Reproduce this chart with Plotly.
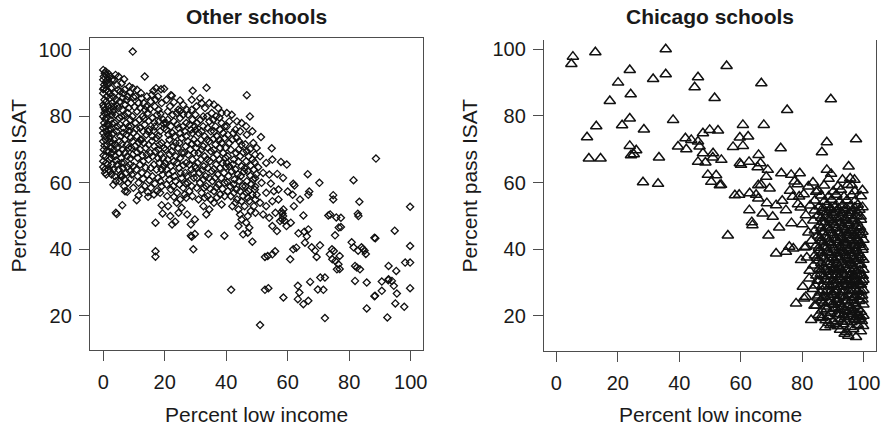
import plotly.graph_objects as go

# ---------------- data ----------------
# Other schools: (percent low income, percent pass ISAT)
other_schools = [
    # x 0-3 column
    (0,94),(0.5,93),(1,92.5),(0,91),(1.5,91),(0.3,89.5),(2,90),(1,88),(0,87),(2.5,88.5),(1.2,86),(0.4,85),
    (2.2,85.5),(0,83.5),(1.5,83),(3,84),(0.6,82),(2,81.5),(0,80),(1.2,79.5),(2.8,80.5),(0.3,78),(1.8,77.5),
    (0,76.5),(1,75.5),(2.5,76),(0.5,74),(2,73.5),(0,72.5),(1.3,71.5),(3,72),(0.2,70),(1.8,69.5),(0.8,68),
    (2.6,67.5),(0,66.5),(1.5,65.5),(0.5,64),(2.2,63.5),(1,62.5),(0.2,88.5),(1.7,87.5),(0.9,90.5),(2.3,92),
    (0.4,81),(1.6,74.5),(2.4,70.5),(0.7,77),
    (0.8,93.5),(1.8,92.8),(0.2,92),(2.8,91),(1.2,89.8),(0,88.2),(2.1,86.8),(0.8,84.3),(2.7,83),(0.2,82.8),
    (1.1,81),(2.4,79),(0.6,79.2),(1.4,77.6),(2.9,77.8),(0,75),(1.7,76),(2.9,74.6),(0.8,73),(2.1,72.3),
    (0.4,71.2),(1.2,69.6),(2.8,69),(0.1,68.2),(2,67),(0.9,66),(2.9,65.5),(0,64.8),(1.7,64),(2.7,62.5),(0.6,63),
    # x 3-10
    (3.5,91),(4.5,89.5),(5,92),(6,90),(3.8,87),(5.5,87.5),(7,88),(4.2,85),(6.3,85.5),(8,86),(3.5,83),(5,82.5),
    (7.2,83.5),(9,84),(4,80.5),(6,80),(8,81),(9.5,80),(3.7,78),(5.5,77.5),(7.5,78),(9,77),(4.3,75.5),(6.5,75),
    (8.5,75.5),(3.5,73),(5.3,72.5),(7,73),(9.5,72.5),(4.5,70.5),(6.2,70),(8.2,70.5),(3.8,68),(5.8,67.5),
    (7.8,68),(9.6,68.5),(4.6,65.5),(6.8,66),(8.7,65.5),(3.3,64),(5.7,62.5),(5.9,62),(6,61.8),(7.5,63),
    (9.3,62.5),(4.1,60.5),(8,60),(3.3,59.4),(6,66),(8.7,63.5),(4.4,50.6),(4.1,51),(6.2,53.3),(7.1,57.5),
    (7.8,57.3),(9.6,88.5),(9.6,99.5),
    (4,92.5),(6.8,91.2),(8.5,89),(4.8,88),(6.5,87),(8.7,87.2),(3.4,85.8),(5.4,84.5),(7.6,85),(9.8,85.8),
    (4.5,83.2),(6.2,82),(8.3,82.6),(3.2,81.5),(5.2,79.6),(7,80.3),(8.8,79),(4.6,77),(6.5,76.6),(8.2,77),
    (9.8,75),(3.3,75),(5.6,74),(7.6,74.6),(9,73.6),(4,71.6),(6.1,71.8),(7.7,71.5),(9.2,70.5),(3.4,70),
    (5.3,69),(7,69),(8.9,67.4),(4.2,66.8),(6.4,64.5),(7.9,64.8),(9.8,65),(5,64),(3.8,62),(7,61),(8.9,61.2),
    (5.3,60.5),(6.8,59),(9.8,58.5),
    # x 10-20
    (10.5,86),(11.5,84),(13.5,92),(12.5,85.5),(14,83),(15.5,84.5),(16.3,87.7),(17.2,88.5),(18.8,88.2),
    (19.8,88.3),(17,85),(18,82),(19,84),(11,81.5),(12.8,80),(14.5,81),(16,79.5),(17.5,80.5),(19.5,79),
    (10.5,78),(12,76.5),(13.5,77.5),(15,76),(16.8,77),(18.5,75.5),(19.8,76.5),(11,74),(12.5,73),(14,74.5),
    (15.8,72.5),(17.3,73.5),(19,72),(10.3,71),(12,70),(13.8,70.5),(15.3,69),(17,69.5),(18.7,68.5),
    (11.2,67.5),(13,66.5),(14.7,67),(16.5,65.5),(18.2,66),(19.7,65),(10.8,64),(12.6,63),(14.3,62.5),
    (16,62),(17.8,61.5),(19.3,62.5),(11.5,60),(13.5,59),(15.5,58.5),(17.5,57.5),(19,59),(10.9,54.8),
    (14.6,55.8),(17,48),(17,39.4),(17,37.8),(19,53.3),(19.3,50.8),(12,73),(16,74),(18,70),
    (11,88),(12.3,87),(14.2,86),(15.8,86.5),(13.2,84),(17.8,86),(10.2,82.8),(12,82.5),(13.6,82),(15.2,82.2),
    (16.8,83),(18.6,80.8),(11.8,79),(13.3,79.3),(14.8,78.6),(16.6,78.2),(18.2,78.5),(19.6,77.8),(10.8,76.3),
    (13,75.5),(14.6,75.5),(16.4,75.8),(18,74.2),(11.6,72.2),(13.2,72),(14.8,71.5),(16.6,71),(18.3,71.5),
    (19.8,70.5),(11,69.2),(12.8,68.2),(14.2,68.5),(16,68),(17.8,67.5),(19.4,67.5),(12,65.5),(13.8,64.6),
    (15.5,64.5),(17.3,64),(19,64),(11.2,62),(13,61.2),(15,60.8),(16.8,59.8),(18.6,60.5),(12.5,58),(14.5,57.2),
    (16.5,56.5),(18.5,57),(11.5,56.2),
    # x 20-30
    (22,86.4),(21.7,83),(24.4,82),(26,83.5),(23.9,81),(26,80.5),(22.3,86.2),(28.8,85),(29.1,87.7),
    (21,79),(23,78.5),(25,79.5),(27,78),(29,79),(20.5,76),(22.5,75),(24.5,76.5),(26.5,75.5),(28.5,76),
    (21.5,73),(23.5,72),(25.5,73.5),(27.5,72.5),(29.5,73),(20.3,70),(22.3,69.5),(24.3,70.5),(26.3,69),
    (28.3,70),(21,67),(23,66.5),(25,67.5),(27,66),(29,67),(20.7,64),(22.7,63.5),(24.7,64.5),(26.7,63),
    (28.7,64),(21.5,61),(23.5,60.5),(25.5,61.5),(27.5,60),(29.5,61.5),(22,58),(24,57),(26,58.5),(28,57.5),
    (21.1,53),(22.4,47.5),(21.8,50),(23.9,54),(24.5,51),(25.5,52.5),(23.4,48.3),(27.3,50.5),(28.5,47.5),
    (29.8,49),(28.8,43.8),(29.3,40),(28.5,44.1),(29.8,44.6),(25,55),(27,55.5),
    (20.6,85),(23,84.3),(25,84.8),(27.2,82),(21,81.5),(22.6,80.5),(25,81.6),(27.6,80.5),(28.8,82),(20.4,78),
    (22,77),(24,77.6),(26,77),(28,77.5),(29.8,77),(21.2,74.5),(23.2,74),(25,75),(27,74),(29,75),(20.8,71.5),
    (22.8,71),(24.8,72),(26.8,71),(28.8,71.8),(21.6,68.5),(23.6,68),(25.6,69),(27.6,68.5),(29.6,69),(20.2,66),
    (22,65),(24,66),(26,65.3),(28,65.5),(29.8,65),(21.2,62.6),(23.2,62),(25.2,63),(27.2,62),(29.2,63),
    (20.6,59.5),(22.8,59),(24.8,59.5),(26.8,59.8),(28.8,59),(20.8,56),(23,55.8),(26.5,56.5),(29,56),
    # x 30-40
    (31.5,85.5),(33.6,88.6),(33.1,82.5),(32.5,80),(35.3,81),(37.4,82.5),(36.7,80),(30.5,78),(32.5,77),
    (34.5,78.5),(36.5,77),(38.5,78),(31,75),(33,74),(35,75.5),(37,74),(39,75),(30.5,72),(32.5,71),
    (34.5,72.5),(36.5,71.5),(38.5,72),(31,69),(33,68),(35,69.5),(37,68.5),(39,69),(30.7,66),(32.7,65),
    (34.7,66.5),(36.7,65.5),(38.7,66),(31.3,63),(33.3,62),(35.3,63.5),(37.3,62.5),(39.3,63),(31.5,60),
    (33.5,59),(35.5,60.5),(37.5,59.5),(39.5,60),(32,57),(34,56),(36,57.5),(38,56.5),(32.6,53),(33.5,50.5),
    (34.5,52),(34.2,44.6),(39.4,44.1),(36,54),(38.5,53.5),(31,55),
    (30.3,83),(32,84),(34.5,84),(36,83.6),(38.5,81),(30,80.5),(31.6,79),(33.8,80),(35.8,79),(37.8,79.6),
    (39.5,77),(30,75.8),(32,75.5),(34,76.5),(36,75.5),(38,76),(31.8,73),(33.8,73),(35.8,73.2),(37.8,73),
    (39.5,73.5),(30.2,70.5),(32,70),(34,70.5),(36,70),(38,70.5),(39.8,70.5),(31.8,67),(33.8,67),(35.8,67.5),
    (37.8,67),(39.8,67.5),(30.2,64.5),(32.2,63.8),(34,64.5),(36,64.2),(38,64.5),(39.9,64.8),(30.5,61.5),
    (32.6,61),(34.4,61.5),(36.4,61.5),(38.4,61.5),(30.4,58.5),(32.8,58.5),(34.8,58.2),(36.8,58.6),(38.8,58.2),
    (33,55.5),(35,55),(37,55.6),(39.5,56),
    # x 40-50
    (40.2,81),(41.8,80.5),(47.7,80),(46.7,86.4),(40.2,77),(42.3,75),(43.4,73.5),(46.7,74.5),(48.8,72),
    (49.9,70.5),(49.4,68.5),(46.7,69.5),(45,71.5),(41,72),(44,70),(40.5,68),(42.5,67),(44.5,68),(46.5,66.5),
    (48.5,67),(41,65),(43,64),(45,65),(47,63.5),(49,64),(40.7,62),(42.7,61),(44.7,62),(46.7,60.5),(48.7,61),
    (41.3,59),(43.3,58),(45.3,59),(47.3,57.5),(49.3,58),(41.5,56),(43.5,55),(45.5,56),(47.5,54.5),(49.5,55),
    (42,53),(44,52),(46,53),(48,51.5),(45,49),(46.5,48),(47.5,46.5),(44,47),(48.5,42.3),(45.5,44.5),(47,45),
    (41.6,27.8),(43,76),(45,78),
    (41,78.5),(43.5,78.5),(44.5,75.5),(46.5,77),(48.5,75.5),(40.5,74.5),(42,73),(44.2,72.5),(46.2,71.6),
    (47.8,70.2),(41.5,70),(43.2,69),(45.5,69.2),(47.2,68),(49.2,66.2),(40.2,66),(42.2,65.6),(44,66.4),
    (46,64.4),(48,65.2),(41.8,63.5),(43.8,62.6),(45.8,63.4),(47.8,62.2),(49.8,62.6),(40.4,60.2),(42.4,59.6),
    (44.2,60.6),(46.2,59),(48.2,59.6),(42.5,57),(44.5,57.5),(46.5,57),(48.5,56.5),(40.5,57.5),(43,54),
    (45,54.5),(47,55.5),(49,53),(44.5,50.5),(47,50),(49.5,51),
    # x 50-60
    (51.3,73.8),(54.8,70.4),(50.4,64.7),(57.8,66.3),(59.7,65.5),(56.6,62.7),(58.5,61.5),(54.5,59.8),
    (60,57.4),(49.4,61.4),(49.4,58.9),(49.9,56.4),(51,68),(53,66),(55,67),(52,63),(54,62.5),(51.5,60),
    (53,57),(55.5,57.5),(57,58),(51,54),(53,53),(55,54.5),(57,55),(52,50.5),(54,49.5),(56,51),(55,47),
    (56.5,45.5),(57.5,48.5),(58,51.3),(58.3,50.8),(58.5,50),(58.2,49),(58.6,52),(59,48.6),(59.6,47),
    (52.6,37.7),(53.5,38),(55,38.5),(55.9,39.4),(51,17.2),(52.6,27.8),(53.7,28.3),(58.6,25.5),
    # x 60-70
    (60.8,37),(61.8,40),(62.8,40.5),(63.5,44.8),(65.4,45.3),(66.2,43.9),(66.7,46),(65.6,42),(67.8,40.6),
    (68.9,39.6),(69.4,37.7),(70.5,41.2),(63.3,29),(63.8,27),(63.3,25),(65.1,23.5),(66.7,24.5),(67.3,30.2),
    (69.8,27.9),(70.6,31.5),(65.1,50.2),(61.8,59.7),(62.2,59.2),(61.6,56.4),(67,57.4),(66.7,56.4),
    (66.5,62.6),(70.3,60),(62,53),(64,55),(61,48),
    # x 70-80
    (72.1,19.3),(71.6,27.8),(72.1,31.5),(73.2,50.2),(77.3,49.5),(77.3,46.7),(75.4,44.2),(74.8,56.3),
    (74.8,55),(73.8,50.5),(73.7,38.5),(74.5,37),(75.5,36.5),(76.5,35.5),(76,34),(75,39.5),(76.9,38),
    (74.4,40),(76.9,34.1),(76.6,46.6),(75.8,49.6),
    # x 80-90
    (80.8,42.1),(81.4,40.6),(82.9,39.6),(84,40.6),(84.5,40.1),(85,39.6),(85.4,38.6),(81.9,35),(82.5,34.5),
    (83.5,34),(81.9,30.5),(85.7,30),(85.7,22.2),(88.5,43.3),(88.4,26),(90.6,27.5),(83.3,54.3),(83,50),
    (82.8,50.7),(81.4,60.8),(88.7,67.3),(88.2,43.5),(88.2,25.9),
    # x 90-100
    (92.8,31),(93.9,30.5),(92.4,19.5),(92.8,35),(94.8,45.6),(94.5,29),(95,23.7),(95.5,26.7),(95.3,33.5),
    (97.9,22.7),(98.2,36),(99.8,36),(99.8,41),(99.8,28.3),(99.8,52.8),(90.6,30.3),(92.7,30.7),
]

# Chicago schools: (percent low income, percent pass ISAT)
chicago_schools = [
    # sparse upper / left part
    (5.4,97.8),(4.9,95.6),(12.7,99.1),(35.6,100),(23.9,93.8),(31.5,91.1),(35.6,92.5),(20.1,90),(24.2,86.5),
    (17.4,84.5),(46.1,91.6),(45,88.6),(55.4,95),(51.5,85.4),(66.7,89.8),(89.3,85),(75.1,81.8),(67.5,77.3),
    (38,78.8),(23.9,79.2),(21.4,77.2),(13,76.9),(10,73.6),(28.5,75.9),(10.6,67.2),(14.4,67.2),(23.9,71),
    (26,69.7),(25.2,68.5),(24.3,68.2),(33.4,67.5),(28.2,60.1),(33.1,59.6),
    (42,73.3),(43.9,72.8),(46.1,72.3),(39.6,70.8),(42.3,70),(47.7,74.8),(49.9,75.8),(52.6,75.6),(46.6,70.8),
    (47.7,68.8),(51,68.8),(53.7,66.8),(46.1,66.2),(49.3,62.3),(50.4,60.2),(53.2,59.2),(60.7,77.3),(59.7,73.5),
    (62.4,73.8),(60.7,71),(57.5,70.7),(59.7,65.8),(62.7,66.2),(65.8,68.3),(66.4,65.8),(58.1,56.2),(62.9,56.8),
    (65.7,59.2),(68.3,61.7),(69.4,58.2),(73,70.3),(73.2,62.8),(76.4,62.3),(79.2,62.8),
    (88,72.1),(86.4,69.1),(97.5,73),(60.1,65.3),(65.5,64.6),(68.8,63.8),(88,63.8),(89.4,62.6),(95.1,64.8),
    (97,60.8),(94.8,59.3),(66.6,59.3),(52,62.2),(53.6,59.3),(59.5,56.3),(65,56.3),(50.9,67.5),(48.5,66),
    (76,57.5),(78.5,59.5),(80.5,56.5),(82,58.8),(84.5,57.2),(79,55.8),(77.5,60.3),(83.5,60),
    # transition zone
    (55.8,44.1),(69,44.1),(63.6,48.1),(63.8,47.2),(65.7,55.2),(62.8,51.7),(67.1,50.7),(70.4,49.7),(71.5,53.2),
    (74.7,51.7),(76.9,55.7),(81.2,50.2),(71.5,38.7),(74.7,39.2),(77.1,40.2),(75.8,40.7),(79.6,36.7),
    (81.2,40.7),(80.2,28.7),(82.3,31.2),(78,23.7),(80.6,25.2),(81.2,25.7),(82.9,18.7),(80.8,40.5),
    (82.4,33.5),(78.6,53.5),(80,47.5),(82,45),(79.5,52.5),(83,42.5),(81.5,37.5),(83.5,28),(84,23),
    (73.5,54.5),(68.5,53.8),(76.5,47.8),(72.5,46.5),(85,25.5),(86,19.5),(87.5,16.5),
    # dense lower-right cloud
    (95,14),(97.5,13.6),(93.8,14.6),(92.3,15.8),(94.4,15.2),(96.6,15.9),(99.1,15.3),(89.2,17.1),(91.6,16.8),
    (93.4,17.4),(95.7,16.6),(98.1,17.2),(99.8,16.9),(87.6,18.6),(90.1,18.3),(92.4,18.9),(94.6,18.2),
    (97.1,18.8),(99.4,18.4),(85.3,20.2),(88.4,19.8),(91.1,20.4),(93.2,20.1),(95.4,19.7),(98,20.3),(99.9,20),
    (86.4,21.6),(89.6,21.3),(92.1,21.9),(94.1,21.4),(96.6,21.7),(99.1,21.2),(84.6,23.1),(87.4,22.8),
    (90.4,23.3),(93.1,22.7),(95.1,23.2),(97.4,22.9),(99.9,23.4),(86.1,24.6),(88.6,24.2),(91.4,24.8),
    (94.1,24.3),(96.1,24.7),(98.6,24.4),(85.2,26.1),(87.1,25.8),(90.2,26.3),(92.6,25.9),(95.1,26.2),
    (97.2,25.7),(99.5,26.1),(86.6,27.6),(89.1,27.2),(91.1,27.8),(93.6,27.3),(96.1,27.7),(98.1,27.4),
    (99.9,27.7),(84.2,29.1),(87.6,28.8),(90.1,29.3),(92.1,28.7),(94.6,29.2),(97.1,28.9),(99.1,29.3),
    (85.6,30.6),(88.6,30.2),(91.2,30.8),(93.6,30.3),(95.6,30.7),(98.1,30.4),(99.9,30.8),(84.6,32.1),
    (87.1,31.8),(89.6,32.3),(92.1,31.7),(94.1,32.2),(96.6,31.9),(99.1,32.3),(86.1,33.6),(88.6,33.2),
    (91.1,33.8),(93.1,33.3),(95.6,33.7),(97.6,33.4),(99.9,33.8),(83.6,35.1),(87.1,34.8),(89.6,35.3),
    (92.1,34.7),(94.6,35.2),(96.6,34.9),(99.1,35.3),(85.1,36.6),(88.1,36.2),(90.6,36.8),(93.1,36.3),
    (95.1,36.7),(97.6,36.4),(99.9,36.8),(84.1,38.1),(86.6,37.8),(89.1,38.3),(91.6,37.7),(94.1,38.2),
    (96.1,37.9),(98.6,38.3),(85.6,39.6),(88.1,39.2),(90.6,39.8),(92.6,39.3),(95.1,39.7),(97.1,39.4),
    (99.6,39.8),(84.6,41.1),(87.1,40.8),(89.6,41.3),(92.1,40.7),(94.1,41.2),(96.6,40.9),(98.6,41.3),
    (86.1,42.6),(88.6,42.2),(91.1,42.8),(93.6,42.3),(95.6,42.7),(98.1,42.4),(99.9,42.8),(85.1,44.1),
    (87.6,43.8),(90.1,44.3),(92.6,43.7),(94.6,44.2),(97.1,43.9),(99.1,44.3),(84.1,45.6),(86.6,45.2),
    (89.1,45.8),(91.6,45.3),(94.1,45.7),(96.1,45.4),(98.6,45.8),(85.6,47.1),(88.1,46.8),(90.6,47.3),
    (93.1,46.7),(95.1,47.2),(97.6,46.9),(83.6,48.6),(86.6,48.2),(89.1,48.8),(91.6,48.3),(94.1,48.7),
    (96.6,48.4),(99.1,48.8),(85.1,50.1),(87.6,49.8),(90.1,50.3),(92.6,49.7),(95.1,50.2),(97.6,49.9),
    (84.1,51.6),(86.6,51.2),(89.1,51.8),(91.1,51.3),(93.6,51.7),(96.1,51.4),(98.6,51.8),(82.6,53.1),
    (85.6,52.8),(88.1,53.3),(90.6,52.7),(93.1,53.2),(95.6,52.9),(98.1,53.3),(84.1,54.6),(87.1,54.2),
    (89.6,54.8),(92.1,54.3),(94.6,54.7),(97.1,54.4),(86.1,56.1),(88.6,55.8),(91.1,56.3),(93.6,55.7),
    (96.1,56.2),(99.1,55.9),(85.1,57.6),(90.1,57.3),(92.6,57.8),(97.1,57.4),(99.6,57.7),(87.1,59.1),
    (91.6,58.8),(96.1,59.2),(88.6,61.1),(93.1,60.8),(95.6,61.2),
    (91.2,24.1),(93.4,29.6),(96.3,33.1),(92.4,38.8),(97.8,27.1),(94.9,21.1),(90.3,34.4),(98.4,37.2),
    (95.8,44.9),(92.9,50.9),(97.3,19.1),(89.8,26.7),(96.9,30.1),(93.7,41.8),
    (88.5,17.8),(90.8,17.6),(93,18.2),(96,18),(98.6,18.9),(86.5,19.3),(89.2,20.8),(92,20.5),(94,19.5),
    (96.5,20.6),(99,19.6),(88,22),(90.8,22.3),(93.5,21.8),(95.8,22.4),(98.2,22.1),(87,23.8),(89.8,23.5),
    (92.4,23.6),(94.8,24.6),(97.2,23.8),(99.6,24.9),(86.6,25.3),(88.9,25.6),(91.5,25.2),(93.8,25.5),
    (96.5,25.4),(98.9,25.9),(85.8,27),(88,27.5),(90.6,27.2),(92.8,27),(95.2,27.5),(97.2,27.8),(99.2,27.3),
    (86.6,29),(89,29),(91.2,29.6),(93.6,28.8),(96,29.4),(98.4,29.6),(85,30.5),(87.4,30.8),(90,30.6),
    (92.5,30.9),(94.8,30.4),(96.8,31),(99.4,30.2),(86,32.5),(88.4,32),(90.9,32.4),(93,32.6),(95.4,32.1),
    (97.8,32.6),(99.7,32),(85.4,34),(87.6,33.7),(90.2,33.6),(92.5,34),(94.5,33.8),(96.9,34.2),(98.8,33.6),
    (86.2,35.8),(88.7,35.5),(91.2,35.8),(93.7,35.4),(95.7,35.9),(98.2,35.6),(84.8,37.4),(87.3,37.2),
    (89.9,37.3),(92.1,37.2),(94.7,37.4),(97,37.1),(99.2,37.6),(86.4,38.8),(88.9,38.9),(91.3,38.7),
    (93.9,38.9),(96,38.8),(98.3,38.9),(85.4,40.4),(87.8,40.3),(90.3,40.5),(92.7,40.3),(95.2,40.4),
    (97.5,40.3),(99.7,40.6),(86.8,42),(89.3,41.9),(91.8,42),(94.3,41.9),(96.8,42),(98.9,41.8),(85.8,43.4),
    (88.3,43.2),(90.8,43.4),(93.3,43.3),(95.8,43.3),(97.9,43.3),(87,45),(89.7,44.9),(92.2,44.8),(94.8,44.9),
    (97.6,45),(99.6,45.2),(86.2,46.3),(88.7,46.4),(91.2,46.3),(93.8,46.2),(96.3,46.3),(98.8,46.6),(87.4,48),
    (90,48),(92.6,47.9),(95.2,47.8),(97.8,48),(86.2,49.4),(88.8,49.3),(91.4,49.3),(94,49.3),(96.6,49.2),
    (99,49.8),(87.8,51),(90.3,50.9),(92.8,50.8),(95.4,50.9),(97.8,51),(86.7,52.3),(89.3,52.3),(91.8,52.2),
    (94.4,52.3),(97,52.4),(99.6,52.6),
]

other_x = [p[0] for p in other_schools]
other_y = [p[1] for p in other_schools]
chicago_x = [p[0] for p in chicago_schools]
chicago_y = [p[1] for p in chicago_schools]

x_ticks = [0, 20, 40, 60, 80, 100]
y_ticks = [20, 40, 60, 80, 100]
panel_titles = ["Other schools", "Chicago schools"]
x_title = "Percent low income"
y_title = "Percent pass ISAT"

# ---------------- figure ----------------
W, H = 886, 428
ML, MR, MT, MB = 90, 10, 38, 77
PW = W - ML - MR
PH = H - MT - MB

def px_x(p):
    return (p - ML) / PW

def px_y(p):
    return (H - MB - p) / PH

FONT = "Liberation Sans, Arial, Helvetica, sans-serif"
TXT = "#1a1a1a"
AX = "#4d4d4d"

fig = go.Figure()
fig.add_trace(go.Scatter(
    x=other_x, y=other_y, mode="markers", xaxis="x", yaxis="y",
    marker=dict(symbol="diamond-open", size=5.5, color="#111111", line=dict(width=1.3, color="#111111")),
    showlegend=False, hoverinfo="skip"))
fig.add_trace(go.Scatter(
    x=chicago_x, y=chicago_y, mode="markers", xaxis="x2", yaxis="y2",
    marker=dict(symbol="triangle-up-open", size=10, color="#111111", line=dict(width=1.5, color="#111111")),
    showlegend=False, hoverinfo="skip"))

common_ticks = dict(ticks="outside", ticklen=10, tickwidth=1.2, tickcolor=AX,
                    tickfont=dict(family=FONT, size=20, color=TXT), automargin=False,
                    showgrid=False, zeroline=False, showline=True, linecolor=AX, linewidth=1.3)

fig.update_layout(
    width=W, height=H,
    margin=dict(l=ML, r=MR, t=MT, b=MB, autoexpand=False),
    paper_bgcolor="white", plot_bgcolor="white",
    font=dict(family=FONT, color=TXT),
    xaxis=dict(domain=[0, px_x(423)], range=[-4.3, 104], tickvals=x_ticks, mirror=True,
               anchor="y", ticklabelstandoff=4, **common_ticks),
    yaxis=dict(domain=[1 / PH, 1], range=[9.7, 103.6], tickvals=y_ticks, mirror=True,
               anchor="x", ticklabelstandoff=3, **common_ticks),
    xaxis2=dict(domain=[px_x(544), 1], range=[-4.0, 104], tickvals=x_ticks, mirror=False,
                anchor="y2", ticklabelstandoff=4, **common_ticks),
    yaxis2=dict(domain=[0, 1 - 2 / PH], range=[9.4, 102.8], tickvals=y_ticks, mirror=True,
                anchor="x2", ticklabelstandoff=3, **common_ticks),
)

ann = []
for cx, t in [((90 + 423) / 2, panel_titles[0]), ((544 + 876) / 2, panel_titles[1])]:
    ann.append(dict(text="<b>%s</b>" % t, x=px_x(cx), y=px_y(17), xref="paper", yref="paper",
                    xanchor="center", yanchor="middle", showarrow=False,
                    font=dict(family=FONT, size=21, color=TXT)))
for cx in [(90 + 423) / 2, (544 + 876) / 2]:
    ann.append(dict(text=x_title, x=px_x(cx), y=px_y(414), xref="paper", yref="paper",
                    xanchor="center", yanchor="middle", showarrow=False,
                    font=dict(family=FONT, size=21, color=TXT)))
for cx in [17.5, 468.5]:
    ann.append(dict(text=y_title, x=px_x(cx), y=px_y(186), xref="paper", yref="paper",
                    xanchor="center", yanchor="middle", textangle=-90, showarrow=False,
                    font=dict(family=FONT, size=21, color=TXT)))
fig.update_layout(annotations=ann)

fig.write_html("out.html", config={"displayModeBar": False},
               post_script="document.body.style.margin='0';document.body.style.overflow='hidden';")
